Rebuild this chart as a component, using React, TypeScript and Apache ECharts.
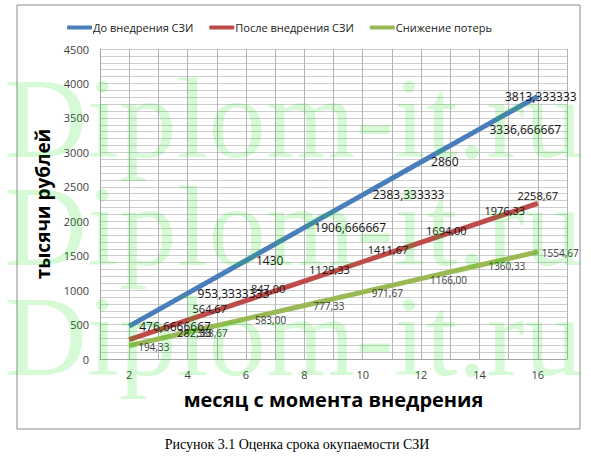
import * as echarts from 'echarts';
import React, { useEffect, useRef } from 'react';

// месяцы с момента внедрения
const months = [2, 4, 6, 8, 10, 12, 14, 16];
// тысячи рублей
const beforeSzi = [476.6666667, 953.3333333, 1430, 1906.666667, 2383.333333, 2860, 3336.666667, 3813.333333];
const afterSzi = [282.33, 564.67, 847.0, 1129.33, 1411.67, 1694.0, 1976.33, 2258.67];
const lossReduction = [194.33, 388.67, 583.0, 777.33, 971.67, 1166.0, 1360.33, 1554.67];

const seriesNames = ['До внедрения СЗИ', 'После внедрения СЗИ', 'Снижение потерь'];
const yTicks = [0, 500, 1000, 1500, 2000, 2500, 3000, 3500, 4000, 4500];

const FONT = '"Open Sans", sans-serif';

const general = (v: number) => String(v).replace('.', ',');
const fixed2 = (v: number) => v.toFixed(2).replace('.', ',');

const App: React.FC = () => {
  const chartRef = useRef<HTMLDivElement>(null);

  useEffect(() => {
    const myChart = echarts.init(chartRef.current!, null, { renderer: 'svg' });

    const blueData = months.map((m, i) => ({
      value: [m, beforeSzi[i]],
      label: i === months.length - 1 ? { position: 'inside', offset: [3, 0] } : undefined,
    }));
    const redData = months.map((m, i) => ({
      value: [m, afterSzi[i]],
      label:
        i === 0
          ? { offset: [43, -7] }
          : i === months.length - 1
          ? { position: 'top', offset: [0, 0], distance: 2 }
          : undefined,
    }));
    const greenData = months.map((m, i) => ({
      value: [m, lossReduction[i]],
      label: i === months.length - 1 ? { distance: 4 } : undefined,
    }));

    const option = {
      animation: false,
      textStyle: { fontFamily: FONT },
      legend: {
        left: 62,
        top: 17,
        icon: 'roundRect',
        itemWidth: 25,
        itemHeight: 4,
        itemGap: 16,
        textStyle: { fontSize: 11, color: '#222', fontFamily: FONT, padding: [0, 0, 0, -4] },
        data: seriesNames,
      },
      grid: { left: 100, right: 24, top: 49, height: 310 },
      xAxis: {
        type: 'value',
        min: 1,
        max: 17,
        interval: 1,
        name: 'месяц с момента внедрения',
        nameLocation: 'middle',
        nameGap: 30,
        nameTextStyle: { fontSize: 20, fontWeight: 'bold', color: '#000', fontFamily: FONT },
        axisLine: { lineStyle: { color: '#a6a6a6' } },
        axisTick: { show: false },
        axisLabel: {
          fontSize: 11,
          color: '#404040',
          margin: 10,
          formatter: (v: number) => (months.includes(v) ? String(v) : ''),
        },
        splitLine: { show: true, lineStyle: { color: '#b3b3b3' } },
      },
      yAxis: {
        type: 'value',
        min: 0,
        max: 4500,
        interval: 100,
        name: 'тысячи рублей',
        nameLocation: 'middle',
        nameGap: 37,
        nameTextStyle: { fontSize: 19, fontWeight: 'bold', color: '#000', fontFamily: FONT },
        axisLine: { show: true, lineStyle: { color: '#a6a6a6' } },
        axisTick: { show: false },
        axisLabel: {
          fontSize: 11,
          color: '#404040',
          margin: 11,
          formatter: (v: number) => (yTicks.includes(v) ? String(v) : ''),
        },
        splitLine: { show: true, lineStyle: { color: '#cdcdcd' } },
      },
      series: [
        {
          name: seriesNames[0],
          type: 'line',
          data: blueData,
          showSymbol: true,
          symbolSize: 0,
          lineStyle: { width: 5, color: '#4a7ebb' },
          itemStyle: { color: '#4a7ebb' },
          label: {
            show: true,
            position: 'right',
            distance: 10,
            fontSize: 12,
            color: '#111',
            fontFamily: FONT,
            formatter: (p: any) => general(p.value[1]),
          },
          z: 3,
        },
        {
          name: seriesNames[1],
          type: 'line',
          data: redData,
          showSymbol: true,
          symbolSize: 0,
          lineStyle: { width: 5, color: '#be4b48' },
          itemStyle: { color: '#be4b48' },
          label: {
            show: true,
            position: 'right',
            distance: 5,
            offset: [0, -12],
            fontSize: 11,
            color: '#111',
            fontFamily: FONT,
            formatter: (p: any) => fixed2(p.value[1]),
          },
          z: 2,
        },
        {
          name: seriesNames[2],
          type: 'line',
          data: greenData,
          showSymbol: true,
          symbolSize: 0,
          lineStyle: { width: 5, color: '#98b954' },
          itemStyle: { color: '#98b954' },
          label: {
            show: true,
            position: 'right',
            distance: 9,
            offset: [0, 1],
            fontSize: 10,
            color: '#404040',
            fontFamily: FONT,
            formatter: (p: any) => fixed2(p.value[1]),
          },
          z: 2,
        },
      ],
      graphic: [
        {
          type: 'rect',
          shape: { x: 17, y: 5, width: 563, height: 424 },
          style: { fill: 'none', stroke: '#8c8c8c', lineWidth: 1 },
          z: 0,
          silent: true,
        },
        {
          type: 'text',
          x: 297,
          y: 444,
          style: {
            text: 'Рисунок 3.1 Оценка срока окупаемости СЗИ',
            font: '14px "Liberation Serif", serif',
            fill: '#000',
            align: 'center',
            verticalAlign: 'middle',
          },
        },
        // водяной знак
        ...[61, 169, 279].map((top) => ({
          type: 'text',
          x: 4,
          y: top,
          z: 100,
          silent: true,
          style: {
            text: 'Diplom-it.ru',
            font: '115px "Liberation Serif", serif',
            fill: 'rgba(0, 215, 0, 0.16)',
            verticalAlign: 'top',
          },
        })),
      ],
    };

    myChart.setOption(option as any);

    return () => {
      myChart.dispose();
    };
  }, []);

  return (
    <div
      ref={chartRef}
      style={{ position: 'absolute', left: 0, top: 0, width: '591px', height: '460px', background: '#fff' }}
    />
  );
};

export default App;
